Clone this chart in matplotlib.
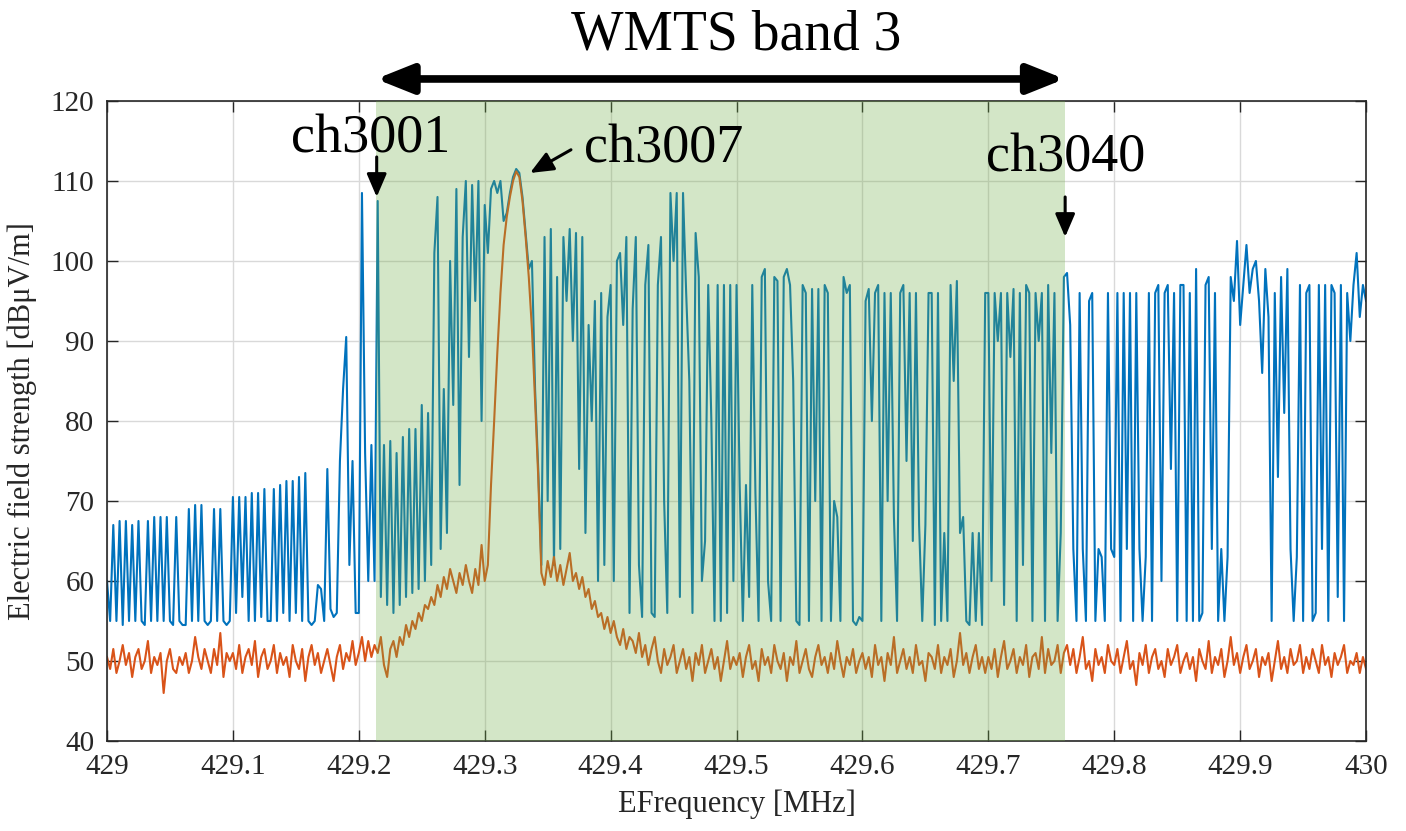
import matplotlib

matplotlib.use("Agg")

import matplotlib.pyplot as plt
import numpy as np

plt.rcParams["font.family"] = ["Liberation Serif", "DejaVu Serif"]

# sample grid of the trace (MHz)
f_start = 429.0
f_step = 0.0025

# blue: max-hold trace, one list per 0.1 MHz (dBuV/m)
blue_d0 = [60, 55, 67, 55, 67.5, 54.5, 67.5, 55, 67, 55, 67.5, 55, 54.5, 67.5, 55, 68, 55, 68, 55, 68,
           55, 54.5, 68, 55, 54.5, 54.5, 69, 55, 69.5, 55, 69.5, 55, 54.5, 55, 69, 55, 69, 55, 54.5, 55]
blue_d1 = [70.5, 56, 70.5, 58, 70.5, 55, 71, 55, 71, 55.5, 71.5, 55, 55, 71.5, 55, 72, 56, 72.5, 55, 72.5,
           56, 73, 55, 73.5, 55, 54.5, 55, 59.5, 59, 55, 74, 56.5, 55.5, 56, 75, 84, 90.5, 62, 75, 56]
blue_d2 = [56, 108.5, 76, 60, 77, 60, 107.5, 58, 77, 57, 77.5, 56, 76, 57, 78, 58, 79, 58.5, 79, 59,
           82, 60, 81, 62, 101, 108, 64, 84, 66, 100, 82, 109, 72, 103, 110, 88, 109.5, 95, 110, 80]
blue_d3 = [107, 101, 109, 110, 108.5, 110, 105, 106, 108.5, 110.5, 111.5, 111, 108, 103.5, 99, 100, 84, 74, 62, 103,
           70, 104, 62, 98, 64, 103, 95, 104, 90, 103.5, 74, 103, 66, 92, 80, 95, 60, 96, 62, 93]
blue_d4 = [97, 60, 100, 101, 92, 103, 56, 94, 103, 62, 55.5, 97, 102, 56, 55.5, 97, 103, 70, 56, 108.5,
           100, 108.5, 58, 108.5, 96, 85, 56, 103.5, 98, 60, 65, 97, 80, 55, 97, 55, 97, 56, 97, 60]
blue_d5 = [97, 72, 55, 72, 58, 97, 71, 55, 98, 99, 60, 55, 98, 97.5, 55, 98, 99, 97, 85, 55,
           54.5, 97, 96, 55, 96.5, 70, 96.5, 55, 97, 96, 55, 70, 68, 55, 98, 96, 97, 55, 54.5, 55.5]
blue_d6 = [55, 95, 96.5, 80, 96, 97, 55, 96, 70, 96, 68, 55, 96, 97, 75, 96, 65, 96, 67, 55,
           67, 96, 96, 54.5, 96, 55, 66, 55, 97, 85, 97.5, 66, 68, 55, 54.5, 66, 55, 66, 54.5, 96]
blue_d7 = [96, 60, 96, 90, 96, 57, 96, 88, 96.5, 55, 96, 62, 97, 96, 55, 96, 90, 96, 55, 97,
           76, 96, 55, 66, 98, 98.5, 92, 64, 55, 96, 64, 55, 95, 96, 55, 64, 63, 55, 96, 64]
blue_d8 = [63, 96, 55, 96, 64, 96, 55, 96, 64, 55, 63, 96, 55, 96, 97, 60, 96, 97, 74, 96,
           55, 97, 97, 55, 96, 55, 99, 55, 56, 97, 98, 64, 96, 55, 64, 55, 63, 98, 95, 102.5]
blue_d9 = [92, 97, 102, 96, 99, 100, 95, 86, 99, 93, 55, 96, 73, 98, 81, 99, 64, 55, 63, 97,
           55, 96, 97, 55, 56, 97, 64, 97, 55, 97, 96, 58, 97, 55, 96, 90, 97, 101, 93, 97, 95]

# orange: second trace, same grid
orange_d0 = [50.5, 49, 51.5, 48.5, 50, 52, 49.5, 51, 48, 50.5, 51.5, 49, 50, 52.5, 48.5, 50.5, 49.5, 51, 46, 50,
             51.5, 49, 48.5, 50.5, 49.5, 51, 48.5, 50, 53, 50.5, 49, 51.5, 50, 48.5, 51.5, 49.5, 53.5, 48, 51, 50]
orange_d1 = [51, 49, 52, 48.5, 50.5, 51.5, 49.5, 52.5, 48, 50.5, 51.5, 49, 50, 52, 48.5, 51, 49.5, 50.5, 48, 52,
             50, 49, 51.5, 47.5, 50.5, 52, 49.5, 51, 48.5, 50, 51.5, 49.5, 47.5, 50.5, 52, 49, 51, 50, 52.5, 49.5]
orange_d2 = [51, 53, 50, 52.5, 50.5, 52, 51, 53, 49.5, 48, 51.5, 52.5, 50.5, 53, 52, 54.5, 53, 55, 54, 56,
             55, 57, 56.5, 58, 57, 59.5, 58, 60.5, 59, 61.5, 60, 58.5, 61, 59.5, 62, 60, 58.5, 61.5, 59.5, 64.5]
orange_d3 = [60, 62, 72, 80, 88.5, 96, 102, 105.5, 108, 110, 111.2, 110.5, 107.5, 103, 98, 91.5, 82.5, 73, 61, 59.5,
             62.5, 60.5, 63, 60, 62, 59.5, 61.5, 63.5, 60, 61, 59, 60.5, 58, 59, 56.5, 57.5, 55.5, 56, 54, 55.5]
orange_d4 = [53.5, 55, 53, 52, 54, 51.5, 53, 52.5, 51, 53.5, 50.5, 52, 49.5, 51.5, 53, 50, 48.5, 51.5, 49.5, 50.5,
             52, 48.5, 50, 51.5, 49, 50.5, 47.5, 51, 49.5, 52, 48.5, 50, 51.5, 49, 50.5, 47.5, 50, 52.5, 49, 50.5]
orange_d5 = [49.5, 51, 48, 50.5, 52, 49, 50, 47.5, 51.5, 49.5, 50.5, 48.5, 52, 50, 49, 51, 47.5, 50.5, 49.5, 52.5,
             48.5, 50, 51.5, 49, 48, 50.5, 52, 49.5, 50.5, 48.5, 51, 49, 52.5, 50, 48, 50.5, 49.5, 51.5, 48.5, 50]
orange_d6 = [51, 49, 50.5, 48, 52, 49.5, 50.5, 47.5, 51, 49.5, 53, 48.5, 50, 51.5, 49, 50.5, 48.5, 52, 49.5, 50,
             47.5, 51, 50.5, 49, 52, 48.5, 50.5, 49.5, 51.5, 48, 50, 53.5, 49.5, 51, 48.5, 50.5, 52, 49, 50.5, 48.5]
orange_d7 = [50.5, 49, 51.5, 48, 50.5, 52.5, 49, 50, 51.5, 48.5, 50.5, 49.5, 52, 48, 50.5, 51, 49, 53, 48.5, 51.5,
             49.5, 50, 52, 48.5, 51, 52, 49.5, 51.5, 48.5, 50.5, 53, 49, 50, 47.5, 51.5, 49.5, 50.5, 48.5, 52, 50]
orange_d8 = [49.5, 51.5, 48.5, 50.5, 52.5, 49, 50, 47, 51, 49.5, 52, 48.5, 50.5, 51.5, 49, 50, 48, 51.5, 49.5, 50.5,
             52, 48.5, 50, 51, 49, 50.5, 47.5, 51.5, 50, 49, 52.5, 48.5, 50.5, 49.5, 51.5, 48, 50, 53, 49.5, 51]
orange_d9 = [48.5, 50.5, 52, 49, 50, 51.5, 48, 50.5, 49.5, 51, 47.5, 50, 52.5, 49, 50.5, 48.5, 51.5, 49.5, 50, 52,
             48.5, 50.5, 49, 51.5, 50, 48.5, 52, 49.5, 50.5, 48, 51, 49.5, 50.5, 52, 48.5, 50, 49.5, 51, 48.5, 50.5, 49]

band_lo, band_hi = 429.2137, 429.7605
xticks = [429.0, 429.1, 429.2, 429.3, 429.4, 429.5, 429.6, 429.7, 429.8, 429.9, 430.0]
xtick_labels = ["429", "429.1", "429.2", "429.3", "429.4", "429.5", "429.6", "429.7", "429.8", "429.9", "430"]
yticks = [40, 50, 60, 70, 80, 90, 100, 110, 120]

blue = np.concatenate([blue_d0, blue_d1, blue_d2, blue_d3, blue_d4, blue_d5, blue_d6, blue_d7, blue_d8, blue_d9])
orange = np.concatenate([orange_d0, orange_d1, orange_d2, orange_d3, orange_d4,
                         orange_d5, orange_d6, orange_d7, orange_d8, orange_d9])
f_blue = f_start + f_step * np.arange(len(blue))
f_orange = f_start + f_step * np.arange(len(orange))

fig = plt.figure(figsize=(14.06, 8.31), dpi=100)
ax = fig.add_axes([0.0761, 0.1083, 0.8955, 0.7702])

ax.plot(f_blue, blue, color="#0072BD", lw=1.5, zorder=2)
ax.plot(f_orange, orange, color="#D95319", lw=1.5, zorder=2.1)
ax.axvspan(band_lo, band_hi, color="#70AD47", alpha=0.3, lw=0, zorder=3)

ax.set_xlim(429, 430)
ax.set_ylim(40, 120)
ax.set_xticks(xticks)
ax.set_xticklabels(xtick_labels)
ax.set_yticks(yticks)
ax.grid(True, color="#d9d9d9", lw=1.0)
ax.set_axisbelow(True)
ax.tick_params(direction="in", top=True, right=True, length=8, width=1.0,
               colors="#262626", labelsize=21, pad=9)
for s in ax.spines.values():
    s.set_color("#262626")
    s.set_linewidth(1.2)

ax.set_ylabel("Electric field strength [dBμV/m]", fontsize=22, color="#262626")
ax.yaxis.set_label_coords(-0.0556, 0.5)
ax.set_xlabel("EFrequency [MHz]", fontsize=22, color="#262626")
ax.xaxis.set_label_coords(0.5, -0.075)

# band arrow + title above the axes
ax.text(429.5, 126.4, "WMTS band 3", ha="center", va="baseline", fontsize=40, clip_on=False)
ax.annotate("", xy=(band_lo, 122.75), xytext=(band_hi, 122.75), annotation_clip=False,
            arrowprops=dict(arrowstyle="<|-|>,head_length=0.55,head_width=0.22", mutation_scale=40,
                            lw=5.5, color="k", shrinkA=0, shrinkB=0))

# channel labels
arrow_kw = dict(arrowstyle="-|>,head_length=0.7,head_width=0.3", mutation_scale=20,
                lw=2.2, color="k", shrinkA=0, shrinkB=0)
ax.text(429.2097, 113.6, "ch3001", ha="center", va="baseline", fontsize=39, zorder=5)
ax.annotate("", xy=(429.2142, 108.0), xytext=(429.2142, 113.0), arrowprops=arrow_kw, annotation_clip=False)
ax.text(429.4424, 112.25, "ch3007", ha="center", va="baseline", fontsize=39, zorder=5)
ax.annotate("", xy=(429.336, 111.0), xytext=(429.3685, 113.9), arrowprops=arrow_kw, annotation_clip=False)
ax.text(429.7613, 111.2, "ch3040", ha="center", va="baseline", fontsize=39, zorder=5)
ax.annotate("", xy=(429.761, 103.0), xytext=(429.761, 108.0), arrowprops=arrow_kw, annotation_clip=False)

fig.savefig("out.png", dpi=100)
plt.close(fig)
